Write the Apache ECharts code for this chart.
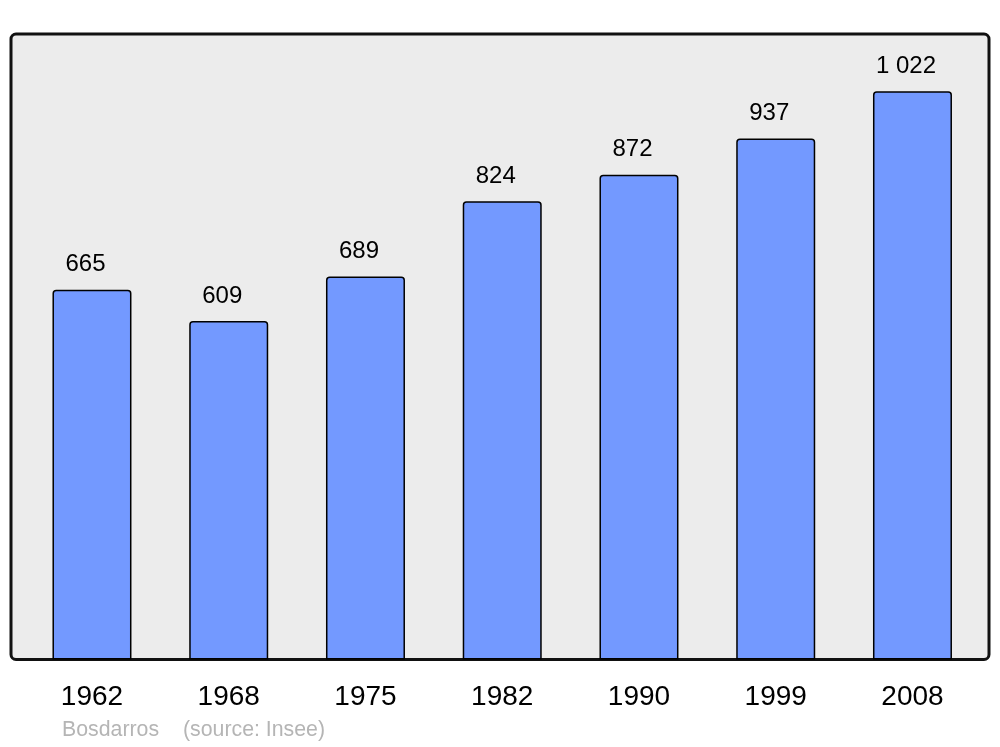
<!DOCTYPE html>
<html>
<head>
<meta charset="utf-8">
<script src="https://cdn.jsdelivr.net/npm/echarts@6/dist/echarts.min.js"></script>
<style>
html,body{margin:0;padding:0;background:#fff;}
#chart{width:1000px;height:747px;}
</style>
</head>
<body>
<div id="chart"></div>
<script>
const years = ['1962','1968','1975','1982','1990','1999','2008'];
const population = [665, 609, 689, 824, 872, 937, 1022];
const placeName = 'Bosdarros';
const sourceText = '(source: Insee)';

function fmt(v){
  return String(v).replace(/\B(?=(\d{3})+(?!\d))/g, ' ');
}

const chart = echarts.init(document.getElementById('chart'), null, {renderer:'canvas'});
chart.setOption({
  animation:false,
  backgroundColor:'#ffffff',
  graphic:[
    {type:'rect', z:-10, shape:{x:11,y:34,width:978,height:625.5,r:5},
     style:{fill:'#ececec', stroke:'#111111', lineWidth:3}},
    {type:'text', left:62, top:720, style:{text:placeName, fill:'#b5b5b5', font:'21.3px "Liberation Sans", Arial, sans-serif'}},
    {type:'text', left:183, top:720, style:{text:sourceText, fill:'#b5b5b5', font:'21.3px "Liberation Sans", Arial, sans-serif'}}
  ],
  grid:{left:23.6, width:957.25, top:34, bottom:87.5, containLabel:false},
  xAxis:{
    type:'category', data:years,
    axisLine:{show:false}, axisTick:{show:false},
    axisLabel:{color:'#000', fontSize:28, fontFamily:'"Liberation Sans", Arial, sans-serif', margin:24}
  },
  yAxis:{type:'value', min:0, max:1125, show:false, splitLine:{show:false}},
  series:[{
    type:'bar', data:population, barWidth:79,
    itemStyle:{color:'#7399ff', borderColor:'#000', borderWidth:1.5, borderRadius:[3,3,0,0]},
    label:{show:true, position:'top', distance:13, offset:[-6.5,0], color:'#000', fontSize:24,
      fontFamily:'"Liberation Sans", Arial, sans-serif', formatter:p=>fmt(p.value)}
  }]
});
</script>
</body>
</html>
